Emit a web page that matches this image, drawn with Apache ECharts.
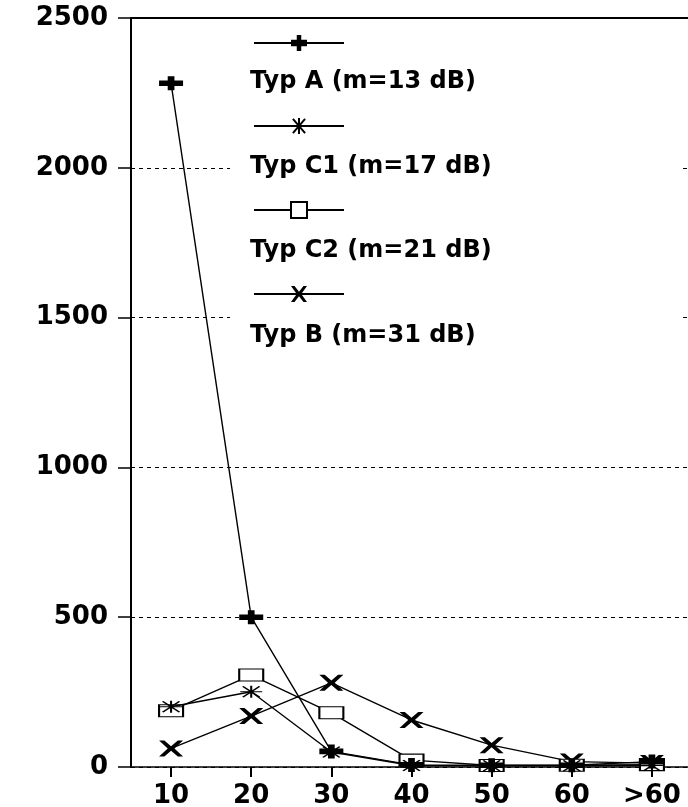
<!DOCTYPE html>
<html>
<head>
<meta charset="utf-8">
<script src="https://cdn.jsdelivr.net/npm/echarts@6/dist/echarts.min.js"></script>
<style>
  html, body { margin: 0; padding: 0; background: #fff; overflow: hidden; }
  #chart { width: 688px; height: 807px; }
</style>
</head>
<body>
<div id="chart"></div>
<script>
// kategorien (x) und werte je typ
var categories = ['10', '20', '30', '40', '50', '60', '>60'];
var yTicks = [0, 500, 1000, 1500, 2000, 2500];
var typA = [2282, 500, 52, 7, 6, 6, 18];
var typC1 = [201, 251, 50, 5, 4, 4, 5];
var typC2 = [188, 307, 181, 23, 5, 6, 8];
var typB = [62, 170, 281, 157, 73, 18, 13];
var names = ['Typ A (m=13 dB)', 'Typ C1 (m=17 dB)', 'Typ C2 (m=21 dB)', 'Typ B (m=31 dB)'];

var font = 'DejaVu Sans';

// symbole
var plusPath = 'path://M0,30 L36,30 L36,0 L64,0 L64,30 L100,30 L100,70 L64,70 L64,100 L36,100 L36,70 L0,70 Z';
var starPath = 'path://M0,50 L100,50 M50,0 L50,100 M12,5 L88,95 M88,5 L12,95';
var xPath = 'path://M0,0 L22,0 L50,36 L78,0 L100,0 L64,50 L100,100 L78,100 L50,64 L22,100 L0,100 L36,50 Z';

var lineStyle = { color: '#000', width: 1.4 };

var mychart = echarts.init(document.getElementById('chart'));
var option = {
  animation: false,
  backgroundColor: '#fff',
  textStyle: { fontFamily: font },
  grid: {
    left: 131, top: 18, bottom: 40, right: -4,
    outerBoundsMode: 'none'
  },
  xAxis: [
    {
      type: 'category',
      data: categories,
      boundaryGap: true,
      axisLine: { show: true, lineStyle: { color: '#000', width: 1.5 } },
      axisTick: { show: true, alignWithLabel: true, length: 10, lineStyle: { color: '#000', width: 2 } },
      splitLine: { show: false },
      axisLabel: { margin: 16, color: '#000', fontFamily: font, fontWeight: 'bold', fontSize: 26, interval: 0 }
    },
    {
      // obere rahmenlinie
      type: 'category',
      data: categories,
      position: 'top',
      axisLine: { show: true, lineStyle: { color: '#000', width: 2 } },
      axisTick: { show: false },
      axisLabel: { show: false }
    }
  ],
  yAxis: {
    type: 'value',
    min: yTicks[0],
    max: yTicks[yTicks.length - 1],
    interval: 500,
    axisLine: { show: true, lineStyle: { color: '#000', width: 2 } },
    axisTick: { show: true, length: 13, lineStyle: { color: '#000', width: 1.5 } },
    splitLine: { show: true, lineStyle: { color: '#000', width: 1, type: [4, 4] } },
    axisLabel: {
      margin: 23, color: '#000', fontFamily: font, fontWeight: 'bold', fontSize: 26,
      formatter: function (v) { return String(v); }
    }
  },
  legend: [
    {
      // nur die symbole
      data: names,
      orient: 'vertical',
      left: 253,
      top: 33,
      padding: 0,
      itemWidth: 90,
      itemHeight: 20,
      itemGap: 65,
      z: 5,
      selectedMode: false,
      formatter: function () { return ''; },
      textStyle: { fontSize: 1 }
    },
    {
      // nur die texte
      data: names.map(function (n) { return { name: n, icon: 'none' }; }),
      orient: 'vertical',
      left: 230,
      top: 30,
      padding: [37, 190, 10, 15],
      backgroundColor: '#fff',
      itemWidth: 0,
      itemHeight: 30,
      itemGap: 54.5,
      z: 3,
      selectedMode: false,
      textStyle: { color: '#000', fontFamily: font, fontWeight: 'bold', fontSize: 24, lineHeight: 30 }
    }
  ],
  series: [
    {
      name: names[0], type: 'line', data: typA,
      symbol: plusPath, symbolSize: [24, 14],
      itemStyle: { color: '#000' }, lineStyle: lineStyle, z: 4
    },
    {
      name: names[1], type: 'line', data: typC1,
      symbol: starPath, symbolSize: [22, 12],
      itemStyle: { color: '#000', borderColor: '#000', borderWidth: 1.5 }, lineStyle: lineStyle, z: 5
    },
    {
      name: names[2], type: 'line', data: typC2,
      symbol: 'rect', symbolSize: [24, 12],
      itemStyle: { color: '#fff', borderColor: '#000', borderWidth: 1.5 }, lineStyle: lineStyle, z: 3
    },
    {
      name: names[3], type: 'line', data: typB,
      symbol: xPath, symbolSize: [24, 16],
      itemStyle: { color: '#000' }, lineStyle: lineStyle, z: 2
    }
  ]
};
mychart.setOption(option);
</script>
</body>
</html>
